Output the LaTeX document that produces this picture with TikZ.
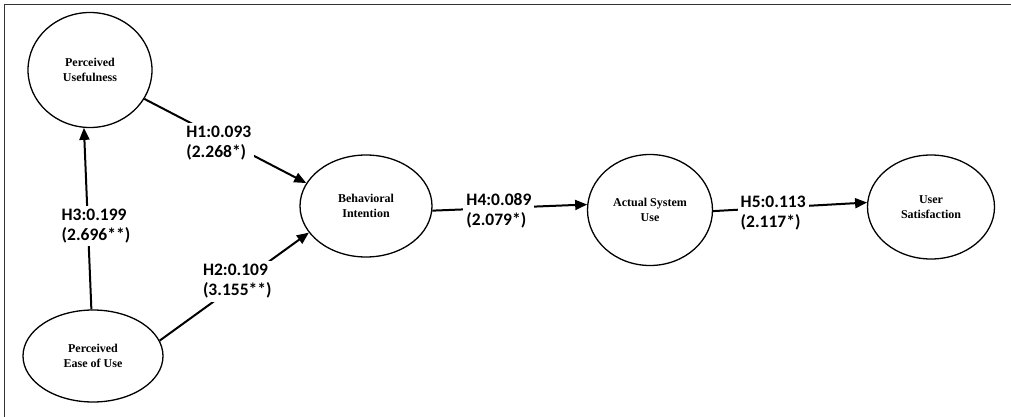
\documentclass[tikz,border=0pt]{standalone}
\usepackage{fontspec}
\setmainfont{Liberation Serif}
\newfontfamily\lblfont{Carlito}
\usetikzlibrary{shapes.geometric,arrows.meta}
\begin{document}
\begin{tikzpicture}[x=1pt,y=-1pt,
  construct/.style={draw, ellipse, line width=1.3pt, inner sep=0pt, align=center,
    font=\fontsize{12}{14.5}\selectfont\bfseries},
  hpath/.style={line width=2pt, -{Triangle[length=12pt,width=10pt]}},
  hyp/.style={fill=white, inner sep=3pt, align=left,
    font=\lblfont\fontsize{17.5}{20}\selectfont\bfseries}]
\useasboundingbox (0,0) rectangle (1011,417);
\draw[line width=1.8pt, black!80] (4.5,417) -- (4.5,4.5) -- (1011,4.5);

\node[construct, minimum width=124pt, minimum height=115pt] (pu) at (90,70) {Perceived\\Usefulness};
\node[construct, minimum width=140pt, minimum height=92pt] (pe) at (93,356) {Perceived\\Ease of Use};
\node[construct, minimum width=132pt, minimum height=102pt] (bi) at (366,206) {Behavioral\\Intention};
\node[construct, minimum width=125pt, minimum height=111pt] (asu) at (650,210) {Actual System\\Use};
\node[construct, minimum width=127pt, minimum height=104pt] (us) at (931,207) {User\\Satisfaction};

\draw[hpath] (pu.-28) -- node[hyp, pos=0.46, yshift=-5pt] {H1:0.093\\(2.268*)} (bi.159);
\draw[hpath] (pe.13) -- node[hyp, pos=0.52, yshift=3pt] {H2:0.109\\(3.155**)} (bi.205);
\draw[hpath] (pe.92) -- node[hyp, pos=0.46, xshift=8pt] {H3:0.199\\(2.696**)} (pu.264);
\draw[hpath] (bi.-4) -- node[hyp, pos=0.43, yshift=-3pt] {H4:0.089\\(2.079*)} (asu.175);
\draw[hpath] (asu.-1) -- node[hyp, pos=0.39, yshift=-5pt] {H5:0.113\\(2.117*)} (us.176);
\end{tikzpicture}
\end{document}
